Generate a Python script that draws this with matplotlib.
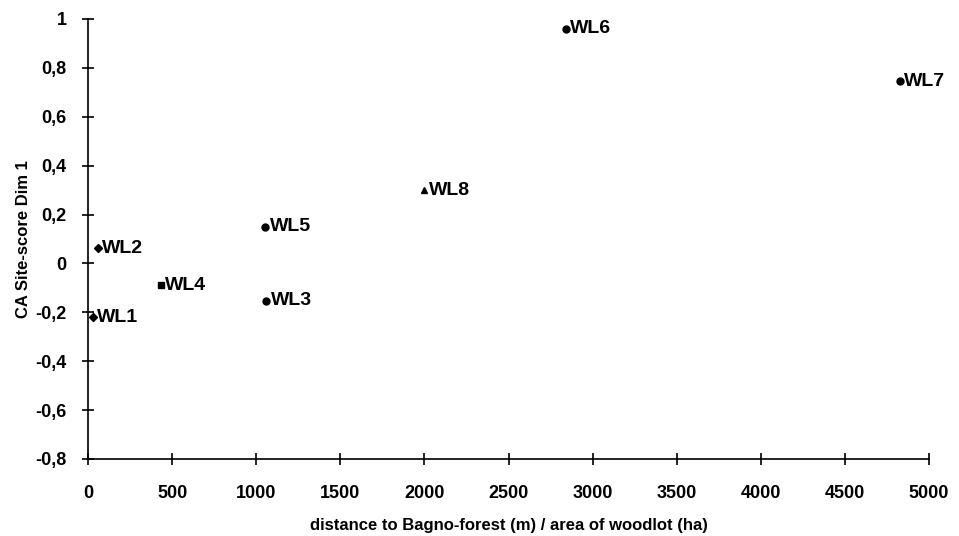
import matplotlib
matplotlib.use('Agg')
import matplotlib.pyplot as plt
from matplotlib.ticker import FuncFormatter

plt.rcParams['font.family'] = ['Liberation Sans', 'DejaVu Sans']

labels = ['WL1', 'WL2', 'WL4', 'WL5', 'WL3', 'WL8', 'WL6', 'WL7']
dist_ratio = [30, 60, 435, 1055, 1060, 2000, 2843, 4827]
site_score = [-0.22, 0.063, -0.09, 0.15, -0.153, 0.30, 0.96, 0.746]
markers = ['D', 'D', 's', 'o', 'o', '^', 'o', 'o']

fig = plt.figure(figsize=(9.59, 5.36), dpi=100)
ax = fig.add_axes([0.0918, 0.1437, 0.877, 0.8209])

for x, y, lab, m in zip(dist_ratio, site_score, labels, markers):
    ax.plot(x, y, marker=m, color='black', markersize=5 if m != 'D' else 4,
            linestyle='none', clip_on=False)
    ax.annotate(lab, (x, y), xytext=(3, 0), textcoords='offset points',
                va='center', ha='left', fontsize=14, fontweight='bold')

ax.set_xlim(0, 5000)
ax.set_ylim(-0.8, 1.0)
ax.set_xticks(range(0, 5001, 500))
ax.set_yticks([-0.8, -0.6, -0.4, -0.2, 0, 0.2, 0.4, 0.6, 0.8, 1.0])
ax.yaxis.set_major_formatter(FuncFormatter(
    lambda v, p: ('%g' % round(v, 1)).replace('.', ',')))

for s in ['top', 'right']:
    ax.spines[s].set_visible(False)
for s in ['left', 'bottom']:
    ax.spines[s].set_linewidth(1.2)

ax.tick_params(direction='inout', length=9, width=1.2, labelsize=13)
ax.tick_params(axis='y', pad=11)
ax.tick_params(axis='x', pad=14)
for t in ax.get_xticklabels() + ax.get_yticklabels():
    t.set_fontweight('bold')

ax.set_xlabel('distance to Bagno-forest (m) / area of woodlot (ha)',
              fontsize=12, fontweight='bold', labelpad=12)
ax.set_ylabel('CA Site-score Dim 1', fontsize=12, fontweight='bold', labelpad=3)

fig.savefig('out.png', dpi=100)
